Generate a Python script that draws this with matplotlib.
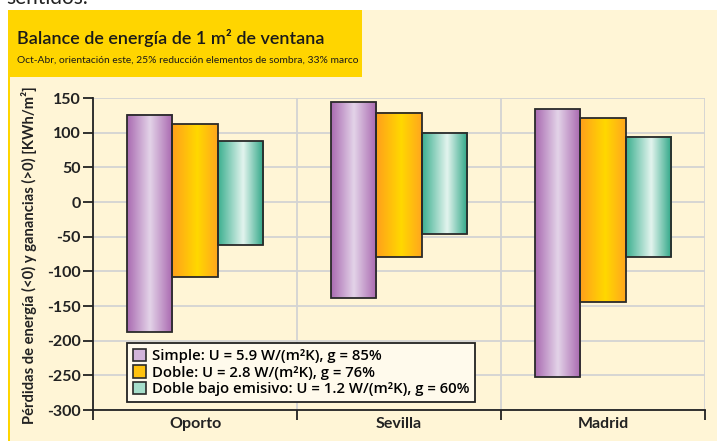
import numpy as np
import matplotlib
matplotlib.use("Agg")
import matplotlib.pyplot as plt
from matplotlib.colors import LinearSegmentedColormap
from matplotlib.patches import Rectangle, Patch

plt.rcParams["axes.unicode_minus"] = False

# ---------------- data ----------------
cities = ["Oporto", "Sevilla", "Madrid"]
series_names = [
    "Simple: U = 5.9 W/(m²K), g = 85%",
    "Doble: U = 2.8 W/(m²K), g = 76%",
    "Doble bajo emisivo: U = 1.2 W/(m²K), g = 60%",
]
gains_simple = [125, 144, 134]
gains_doble = [112, 129, 121]
gains_bajo = [88, 100, 94]
losses_simple = [-188, -138, -252]
losses_doble = [-108, -79, -144]
losses_bajo = [-62, -46, -80]
yticks = [-300, -250, -200, -150, -100, -50, 0, 50, 100, 150]

gains = [gains_simple, gains_doble, gains_bajo]
losses = [losses_simple, losses_doble, losses_bajo]

W, H = 717, 441
fig = plt.figure(figsize=(W / 100, H / 100), dpi=100)
fig.patch.set_facecolor("white")

FONT = ["Lato", "DejaVu Sans"]
FONT2 = ["Open Sans", "DejaVu Sans"]

def fx(px):
    return px / W

def fy(py):
    return 1 - py / H

# background panel
fig.patches.append(Rectangle((fx(8), 0), fx(717) - fx(8), fy(10), transform=fig.transFigure,
                             facecolor="#FFF5D6", edgecolor="none", zorder=-5))
fig.patches.append(Rectangle((fx(8), fy(77)), fx(362) - fx(8), fy(10) - fy(77), transform=fig.transFigure,
                             facecolor="#FFD500", edgecolor="none", zorder=-4))
fig.patches.append(Rectangle((fx(8), 0), fx(2), fy(77), transform=fig.transFigure,
                             facecolor="#FFD500", edgecolor="none", zorder=-4))

fig.text(fx(6), fy(4), "sentidos.", fontsize=15, family=FONT, color="#222222", va="baseline")
fig.text(fx(17), fy(38), "Balance de energía de 1 m² de ventana", fontsize=13, fontweight="semibold",
         family=FONT, color="#1a1a1a", va="center")
fig.text(fx(17), fy(60), "Oct-Abr, orientación este, 25% reducción elementos de sombra, 33% marco",
         fontsize=7.4, family=FONT, color="#1a1a1a", va="center")

ax = fig.add_axes([fx(93), fy(410), fx(705) - fx(93), fy(98) - fy(410)])
ax.set_facecolor("none")
ax.set_zorder(5)

x = np.arange(len(cities))
bw = 0.222
offsets = [-bw, 0, bw]
cmaps = [
    LinearSegmentedColormap.from_list("p", [(0, "#A96AB1"), (0.5, "#E3D3E8"), (1, "#A866AF")]),
    LinearSegmentedColormap.from_list("o", [(0, "#FF9F1C"), (0.55, "#FFD800"), (1, "#FFA61E")]),
    LinearSegmentedColormap.from_list("g", [(0, "#3BAF8F"), (0.55, "#E3F4EE"), (1, "#2BA585")]),
]
grad = np.linspace(0, 1, 256).reshape(1, -1)

for i in range(3):
    heights = np.array(gains[i]) - np.array(losses[i])
    bars = ax.bar(x + offsets[i], heights, bw, bottom=losses[i], facecolor="none",
                  edgecolor="#2a2a2a", linewidth=1.3, zorder=4)
    for b in bars:
        x0, y0 = b.get_x(), b.get_y()
        ax.imshow(grad, cmap=cmaps[i], aspect="auto", zorder=3,
                  extent=[x0, x0 + b.get_width(), y0, y0 + b.get_height()], interpolation="bilinear")

ax.set_xlim(-0.5, 2.5)
ax.set_ylim(-300, 150)
ax.set_yticks(yticks)
ax.set_xticks([-0.5, 0.5, 1.5, 2.5])
ax.set_xticklabels([])
ax.set_xticks(x, minor=True)
ax.set_xticklabels(cities, minor=True, fontsize=11.5, fontweight="bold", family=FONT, color="#222222")
ax.tick_params(axis="x", which="minor", length=0, pad=5)
ax.tick_params(axis="x", which="major", length=7, width=1.3, direction="out", color="#222222")
ax.tick_params(axis="y", length=7, width=1.3, direction="out", color="#222222", pad=2)
for lab in ax.get_yticklabels():
    lab.set_fontsize(11.5)
    lab.set_fontweight("bold")
    lab.set_family(FONT)
    lab.set_color("#222222")

ax.grid(True, which="major", color="#D3D3D3", linewidth=1.3, zorder=0)
ax.set_axisbelow(True)
for s in ["top", "right"]:
    ax.spines[s].set_visible(False)
for s in ["left", "bottom"]:
    ax.spines[s].set_linewidth(1.3)
    ax.spines[s].set_color("#222222")

fig.text(fx(29), fy(255), "Pérdidas de energía (<0) y ganancias (>0) [KWh/m²]", rotation=90,
         fontsize=10.6, fontweight="bold", family=FONT, color="#222222", va="center", ha="center")

handle_colors = ["#D2B4DA", "#FFC20E", "#A6DECB"]
handles = [Patch(facecolor=c, edgecolor="#2a2a2a", linewidth=1.2) for c in handle_colors]
leg = ax.legend(handles, series_names, loc="lower left", bbox_to_anchor=(0.0556, 0.0256),
                borderaxespad=0, frameon=True, fancybox=False, handlelength=0.9, handleheight=0.9,
                handletextpad=0.35, labelspacing=0.15, borderpad=0.4,
                prop={"family": FONT2, "size": 10.7, "weight": "semibold"})
leg.get_frame().set_edgecolor("#222222")
leg.get_frame().set_facecolor("#FFFAEC")
leg.get_frame().set_linewidth(1.3)
leg.get_frame().set_alpha(1)
leg.set_zorder(6)

fig.savefig("out.png", dpi=100)
